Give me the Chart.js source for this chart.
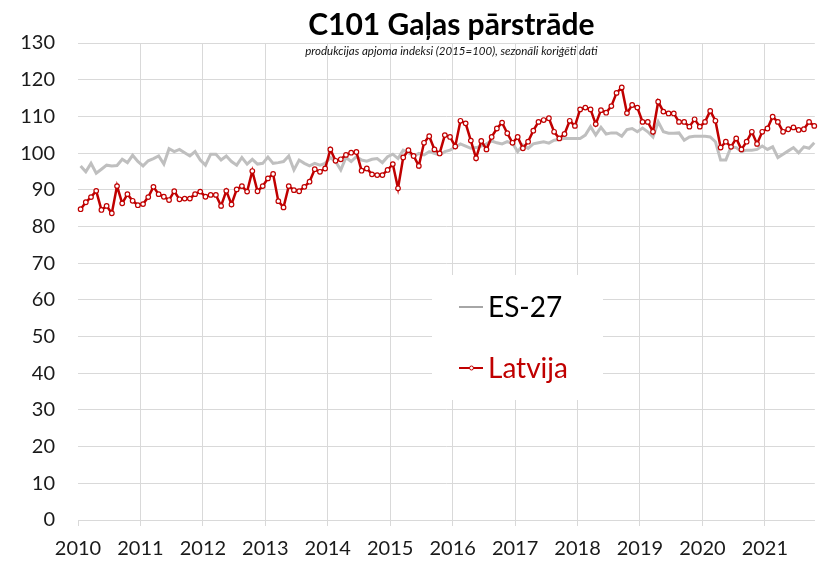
<!DOCTYPE html>
<html>
<head>
<meta charset="utf-8">
<script src="https://cdn.jsdelivr.net/npm/chart.js@4.4.1/dist/chart.umd.min.js"></script>
<style>
  html, body { margin: 0; padding: 0; background: #fff; }
  canvas { display: block; }
</style>
</head>
<body>
<canvas id="meatChart" width="820" height="565"></canvas>
<script>
// monthly index, 2010-01 .. 2021-10
var years = [2010, 2011, 2012, 2013, 2014, 2015, 2016, 2017, 2018, 2019, 2020, 2021];
var yTicks = [0, 10, 20, 30, 40, 50, 60, 70, 80, 90, 100, 110, 120, 130];

var es27 = [
    96.5, 94.9, 97.2, 94.5, 95.6, 96.7, 96.5, 96.6, 98.3, 97.4, 99.4, 97.7,
    96.5, 97.9, 98.5, 99.2, 97.0, 101.2, 100.4, 101.0, 100.1, 99.2, 100.4, 98.1,
    96.7, 99.7, 99.7, 98.1, 99.2, 97.7, 96.7, 98.8, 97.0, 98.3, 97.0, 97.2,
    98.9, 97.2, 97.4, 97.7, 99.2, 95.4, 98.1, 97.2, 96.5, 97.2, 96.7, 97.2,
    98.8, 97.7, 95.4, 98.8, 97.7, 99.0, 98.1, 97.8, 98.3, 98.5, 97.4, 99.0,
    99.7, 98.5, 100.8, 100.1, 99.2, 99.9, 99.5, 100.4, 99.9, 99.5, 100.4, 100.8,
    101.6, 102.5, 101.9, 101.3, 101.5, 101.9, 102.5, 103.3, 102.8, 102.5, 103.1, 102.7,
    100.4, 102.2, 101.3, 102.5, 102.8, 103.1, 102.7, 103.5, 103.7, 104.0, 104.0, 104.0,
    104.0, 104.9, 107.2, 104.9, 107.0, 105.2, 105.5, 105.5, 104.6, 106.4, 106.7, 105.8,
    106.8, 105.8, 104.4, 108.5, 105.8, 105.4, 105.4, 105.5, 103.5, 104.4, 104.6, 104.6,
    104.6, 104.4, 103.1, 98.1, 98.1, 101.7, 101.5, 100.4, 100.8, 100.8, 101.0, 101.9,
    101.0, 101.7, 98.8, 99.7, 100.6, 101.5, 100.1, 101.7, 101.3, 102.8
];

var latvija = [
    84.7, 86.6, 88.0, 89.7, 84.5, 85.6, 83.6, 91.0, 86.3, 88.8, 87.0, 85.8,
    86.1, 88.0, 90.8, 88.8, 88.1, 87.2, 89.6, 87.4, 87.6, 87.6, 88.8, 89.5,
    88.1, 88.6, 88.6, 85.6, 89.7, 86.0, 90.1, 91.0, 89.5, 95.1, 89.6, 91.0,
    93.1, 94.3, 86.9, 85.2, 91.0, 89.9, 89.6, 90.8, 92.2, 95.6, 94.9, 95.8,
    101.0, 97.9, 98.3, 99.5, 100.1, 100.3, 95.2, 95.8, 94.2, 94.0, 94.0, 95.4,
    97.0, 90.4, 98.8, 100.8, 99.2, 96.5, 102.8, 104.6, 101.0, 99.9, 104.9, 104.4,
    101.8, 108.8, 108.1, 103.4, 98.6, 103.3, 101.0, 104.4, 106.7, 108.3, 105.4, 102.8,
    104.4, 101.3, 103.1, 106.1, 108.5, 109.0, 109.5, 105.8, 104.0, 105.2, 108.8, 107.4,
    111.9, 112.4, 111.9, 107.9, 111.7, 111.0, 112.8, 116.4, 117.9, 110.9, 113.1, 112.4,
    108.5, 108.5, 105.8, 114.0, 111.3, 110.8, 110.8, 108.5, 108.5, 107.2, 109.2, 107.2,
    108.5, 111.5, 108.8, 101.5, 103.1, 101.7, 104.0, 101.0, 103.1, 105.8, 102.5, 105.8,
    106.7, 109.9, 108.5, 105.8, 106.5, 107.0, 106.3, 106.5, 108.5, 107.4
];

var seriesNames = ['ES-27', 'Latvija'];
var titleText = 'C101 Gaļas pārstrāde';
var subtitleText = 'produkcijas apjoma indeksi (2015=100), sezonāli koriģēti dati';

// month position (mid-month) on a linear axis
var months = latvija.map(function (v, i) { return i + 0.5; });

var FONT = 'Lato, "Noto Sans", sans-serif';
var RED = '#c00000';
var GREY = '#bfbfbf';

var headerAndLegend = {
    id: 'headerAndLegend',
    afterDraw: function (chart) {
        var ctx = chart.ctx;
        var area = chart.chartArea;
        var cx = (area.left + area.right) / 2 + 5;
        ctx.save();
        ctx.fillStyle = '#000';
        ctx.textAlign = 'center';
        ctx.textBaseline = 'alphabetic';
        ctx.font = 'bold 30px ' + FONT;
        ctx.fillText(titleText, cx, 35);
        ctx.font = 'italic 11.5px ' + FONT;
        ctx.fillStyle = '#111';
        ctx.fillText(subtitleText, cx, 55);

        // legend box
        ctx.fillStyle = '#fff';
        ctx.fillRect(432, 275, 171, 125);
        ctx.textAlign = 'left';
        ctx.font = '28px ' + FONT;

        ctx.strokeStyle = '#a6a6a6';
        ctx.lineWidth = 2;
        ctx.beginPath();
        ctx.moveTo(459, 307);
        ctx.lineTo(483, 307);
        ctx.stroke();
        ctx.fillStyle = '#000';
        ctx.fillText(seriesNames[0], 488, 317);

        ctx.strokeStyle = RED;
        ctx.beginPath();
        ctx.moveTo(459, 368);
        ctx.lineTo(483, 368);
        ctx.stroke();
        ctx.beginPath();
        ctx.arc(471.5, 368, 2, 0, Math.PI * 2);
        ctx.fillStyle = '#fff';
        ctx.fill();
        ctx.lineWidth = 1;
        ctx.stroke();
        ctx.fillStyle = RED;
        ctx.fillText(seriesNames[1], 488, 378);
        ctx.restore();
    }
};

new Chart('meatChart', {
    type: 'line',
    data: {
        labels: months,
        datasets: [{
            label: seriesNames[1],
            data: latvija,
            borderColor: RED,
            borderWidth: 2.5,
            pointRadius: 2.3,
            pointBorderWidth: 1.2,
            pointBackgroundColor: '#fff',
            pointBorderColor: RED,
            tension: 0,
            clip: false,
            order: 0
        }, {
            label: seriesNames[0],
            data: es27,
            borderColor: GREY,
            borderWidth: 3,
            pointRadius: 0,
            tension: 0,
            clip: false,
            order: 1
        }]
    },
    options: {
        responsive: false,
        animation: false,
        devicePixelRatio: 1,
        layout: { padding: { top: 43, right: 0, left: 0, bottom: 0 } },
        plugins: {
            legend: { display: false },
            tooltip: { enabled: false },
            title: { display: false }
        },
        scales: {
            x: {
                type: 'linear',
                min: 0,
                max: 141.6,
                afterBuildTicks: function (s) {
                    s.ticks = years.map(function (y, k) { return { value: k * 12 }; });
                },
                afterFit: function (s) { s.height = 45; },
                ticks: {
                    autoSkip: false,
                    maxRotation: 0,
                    padding: 11,
                    color: '#1a1a1a',
                    font: { family: FONT, size: 20 },
                    callback: function (v, i) { return String(years[i]); }
                },
                grid: {
                    color: function (c) { return c.index === 0 ? 'rgba(0,0,0,0)' : '#d9d9d9'; },
                    tickColor: '#d9d9d9',
                    tickLength: 6
                },
                border: { color: '#d9d9d9' }
            },
            y: {
                min: 0,
                max: 130,
                afterBuildTicks: function (s) {
                    s.ticks = yTicks.map(function (v) { return { value: v }; });
                },
                afterFit: function (s) { s.width = 78; },
                ticks: {
                    padding: 23,
                    color: '#1a1a1a',
                    font: { family: FONT, size: 20 }
                },
                grid: { color: '#d9d9d9', drawTicks: false },
                border: { display: false }
            }
        }
    },
    plugins: [headerAndLegend]
});
</script>
</body>
</html>
